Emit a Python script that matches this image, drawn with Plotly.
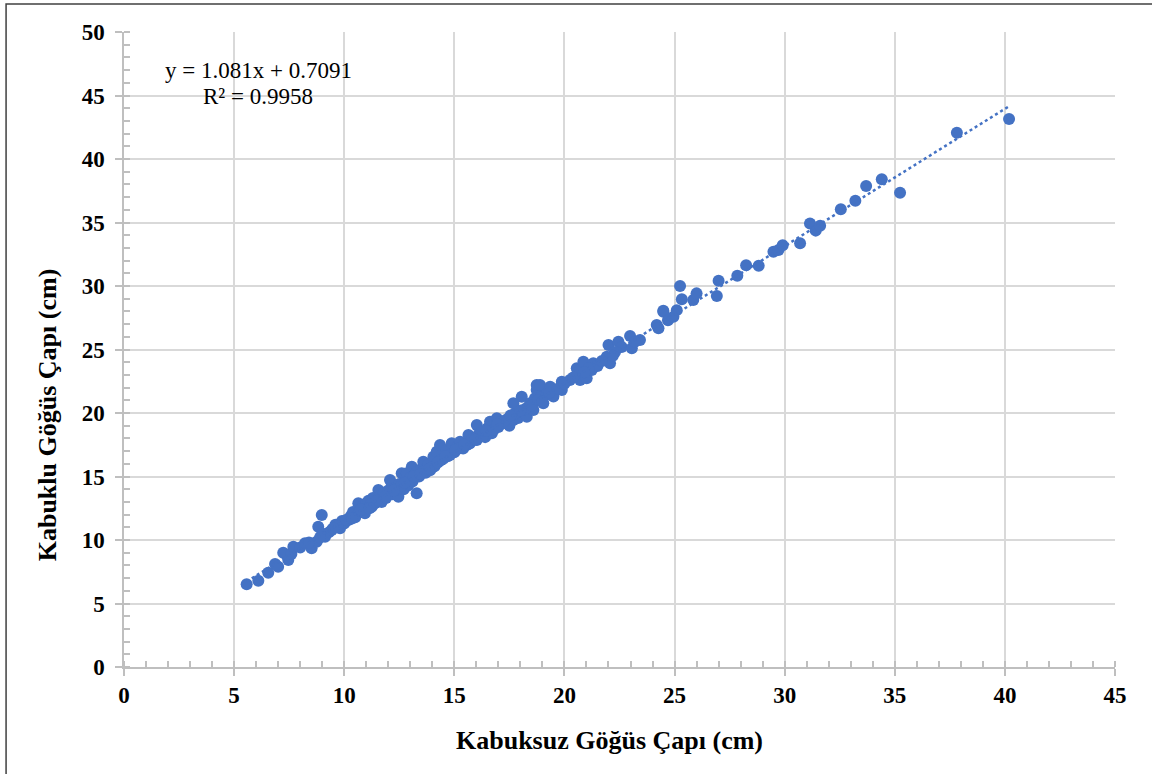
import plotly.graph_objects as go

x_kabuksuz = [
    5.57, 6.10, 6.55, 6.86, 7.00, 7.23, 7.46, 7.60, 7.69, 8.00, 8.22, 8.52, 8.75, 8.98, 8.82,
    9.13, 9.00, 9.30, 9.43, 9.60, 9.81, 9.90, 10.00, 10.19, 10.30, 10.40, 10.50, 10.64, 10.70,
    10.80, 10.94, 11.00, 11.10, 11.25, 11.30, 11.40, 11.55, 11.60, 11.70, 11.80, 11.90, 12.00,
    12.08, 12.16, 12.20, 12.30, 12.38, 12.46, 12.50, 12.61, 12.70, 12.80, 12.84, 12.90, 13.00,
    13.07, 13.10, 13.20, 13.29, 13.29, 13.40, 13.50, 13.59, 13.70, 13.80, 13.90, 14.05, 14.10,
    14.20, 14.30, 14.35, 14.50, 14.65, 14.70, 14.88, 15.00, 15.10, 15.26, 15.40, 15.56, 15.64,
    15.70, 15.90, 16.02, 16.02, 16.10, 16.24, 16.40, 16.50, 16.62, 16.70, 16.77, 16.93, 17.00,
    17.10, 17.23, 17.40, 17.50, 17.68, 17.68, 17.80, 17.90, 18.06, 18.10, 18.29, 18.30, 18.44,
    18.59, 18.66, 18.74, 18.74, 18.89, 19.04, 19.12, 19.20, 19.35, 19.50, 19.88, 19.88, 20.25,
    20.56, 20.71, 20.71, 20.86, 21.01, 21.24, 21.31, 21.50, 21.92, 22.00, 22.07, 22.45, 22.60,
    22.98, 23.06, 23.43, 24.19, 24.27, 24.49, 24.49, 24.70, 24.95, 25.10, 25.25, 25.33, 25.85,
    26.00, 26.92, 27.00, 27.85, 28.25, 28.82, 29.49, 29.72, 29.91, 30.70, 31.15, 31.41, 31.61,
    32.55, 33.21, 33.70, 34.41, 35.24, 37.82, 40.19,
    8.40, 8.90, 9.70, 10.10, 10.90, 11.20, 11.50, 12.40, 12.60, 13.30, 13.60, 14.00, 14.40,
    14.80, 15.20, 15.80, 16.30, 16.80, 17.30, 17.70, 18.20, 18.50, 18.90, 19.30, 19.70, 20.40,
    21.10, 21.70, 22.30, 23.20,
    9.50, 10.35, 10.75, 11.15, 11.85, 12.25, 12.75, 13.15, 13.45, 13.85, 14.25, 14.60, 15.05,
    15.45, 15.95, 16.45, 16.95, 17.55, 18.00, 18.80, 19.00, 20.00, 20.90, 22.20,
]
y_kabuklu = [
    6.51, 6.80, 7.43, 8.11, 7.90, 9.00, 8.43, 8.90, 9.47, 9.40, 9.74, 9.35, 9.87, 11.97, 11.05,
    10.26, 10.50, 10.60, 10.79, 11.20, 10.92, 11.50, 11.30, 11.57, 11.90, 12.20, 11.80, 12.89, 12.30,
    12.60, 12.10, 12.90, 13.10, 12.62, 13.30, 12.90, 13.94, 13.40, 13.00, 13.70, 13.30, 13.90,
    14.72, 14.46, 13.60, 14.10, 14.20, 13.41, 14.40, 15.25, 14.00, 14.60, 15.25, 14.30, 14.90,
    15.77, 14.60, 15.10, 13.68, 15.38, 15.00, 15.60, 16.17, 15.30, 15.90, 15.50, 16.56, 15.80,
    16.95, 16.20, 17.48, 16.40, 17.09, 16.60, 17.61, 16.90, 17.30, 17.74, 17.20, 17.48, 18.27,
    17.60, 18.00, 19.06, 17.87, 18.30, 18.53, 18.10, 18.80, 19.32, 18.40, 18.66, 19.58, 18.90,
    19.30, 19.19, 19.50, 19.00, 20.76, 19.45, 19.90, 19.60, 21.28, 20.10, 19.71, 20.40, 20.76,
    20.24, 21.16, 21.81, 22.20, 22.20, 20.76, 21.42, 21.55, 22.07, 21.30, 22.46, 21.81, 22.60,
    23.52, 22.60, 23.39, 24.04, 22.73, 23.39, 23.91, 23.70, 24.43, 25.35, 23.91, 25.62, 25.20,
    26.06, 25.09, 25.75, 26.93, 26.67, 28.06, 27.98, 27.30, 27.58, 28.10, 30.00, 28.95, 28.90,
    29.42, 29.21, 30.42, 30.81, 31.63, 31.60, 32.70, 32.83, 33.20, 33.36, 34.93, 34.36, 34.75,
    36.04, 36.72, 37.87, 38.40, 37.35, 42.07, 43.15,
    9.80, 10.20, 11.10, 11.60, 12.40, 12.80, 13.10, 14.00, 14.30, 15.00, 15.40, 15.70, 16.30,
    16.70, 17.20, 17.90, 18.20, 18.70, 19.40, 19.90, 20.30, 20.60, 21.20, 21.60, 21.90, 22.80,
    23.50, 24.10, 24.80, 25.60,
    10.90, 11.70, 12.40, 12.50, 13.40, 13.90, 14.50, 15.00, 15.20, 15.60, 16.10, 16.60, 17.10,
    17.50, 17.90, 18.60, 19.10, 19.80, 20.20, 21.00, 20.90, 22.30, 23.20, 24.50,
]

# Trendline as displayed on the chart
slope = 1.081
intercept = 0.7091
trend_x = [min(x_kabuksuz), max(x_kabuksuz)]
trend_y = [slope * v + intercept for v in trend_x]

x_ticks = [0, 5, 10, 15, 20, 25, 30, 35, 40, 45]
y_ticks = [0, 5, 10, 15, 20, 25, 30, 35, 40, 45, 50]

BLUE = "#4472C4"
SERIF = "Liberation Serif"

fig = go.Figure()
fig.add_trace(go.Scatter(
    x=x_kabuksuz, y=y_kabuklu, mode="markers",
    marker=dict(color=BLUE, size=12, line=dict(width=0)),
    showlegend=False, hoverinfo="x+y",
))
fig.add_trace(go.Scatter(
    x=trend_x, y=trend_y, mode="lines",
    line=dict(color=BLUE, width=2.5, dash="dot"),
    showlegend=False, hoverinfo="skip",
))

axis_common = dict(
    showgrid=True, gridcolor="#d9d9d9", gridwidth=1.5,
    showline=True, linecolor="#bfbfbf", linewidth=1.5,
    zeroline=False, ticks="outside", ticklen=7, tickwidth=1.5, tickcolor="#bfbfbf",
    tickfont=dict(family=SERIF, size=23, color="#000000", weight="bold"),
)

fig.update_xaxes(
    **axis_common, range=[0, 45], tickvals=x_ticks, ticktext=[str(t) for t in x_ticks],
    minor=dict(ticks="inside", dtick=1, ticklen=6, tickcolor="#bfbfbf", tickwidth=1.5, showgrid=False),
)
fig.update_yaxes(
    **axis_common, range=[0, 50], tickvals=y_ticks, ticktext=[str(t) for t in y_ticks],
    minor=dict(ticks="inside", dtick=1, ticklen=6, tickcolor="#bfbfbf", tickwidth=1.5, showgrid=False),
    ticklabelstandoff=6,
)

title_font = dict(family=SERIF, size=26, color="#000000", weight="bold")
fig.add_annotation(
    x=0.4904, y=-0.115, xref="paper", yref="paper", xanchor="center", yanchor="middle",
    text="Kabuksuz Göğüs Çapı (cm)", showarrow=False, font=title_font,
)
fig.add_annotation(
    x=-0.0777, y=0.398, xref="paper", yref="paper", xanchor="center", yanchor="middle",
    text="Kabuklu Göğüs Çapı (cm)", showarrow=False, textangle=-90, font=title_font,
)

fig.add_annotation(
    x=6.1, y=47.0, xref="x", yref="y",
    text="y = 1.081x + 0.7091", showarrow=False, align="center",
    font=dict(family=SERIF, size=23, color="#000000"),
)
fig.add_annotation(
    x=6.1, y=44.9, xref="x", yref="y",
    text="R² = 0.9958", showarrow=False, align="center",
    font=dict(family=SERIF, size=23, color="#000000"),
)

# Outer chart border
fig.add_shape(type="rect", xref="paper", yref="paper",
              x0=-0.119, y0=-0.3, x1=1.2, y1=1.044,
              line=dict(color="#404040", width=1.5), fillcolor="rgba(0,0,0,0)", layer="below")

fig.update_layout(
    width=1152, height=774,
    margin=dict(l=124, r=37, t=32, b=107),
    paper_bgcolor="white", plot_bgcolor="white",
    font=dict(family=SERIF),
)

fig.write_html("out.html")
